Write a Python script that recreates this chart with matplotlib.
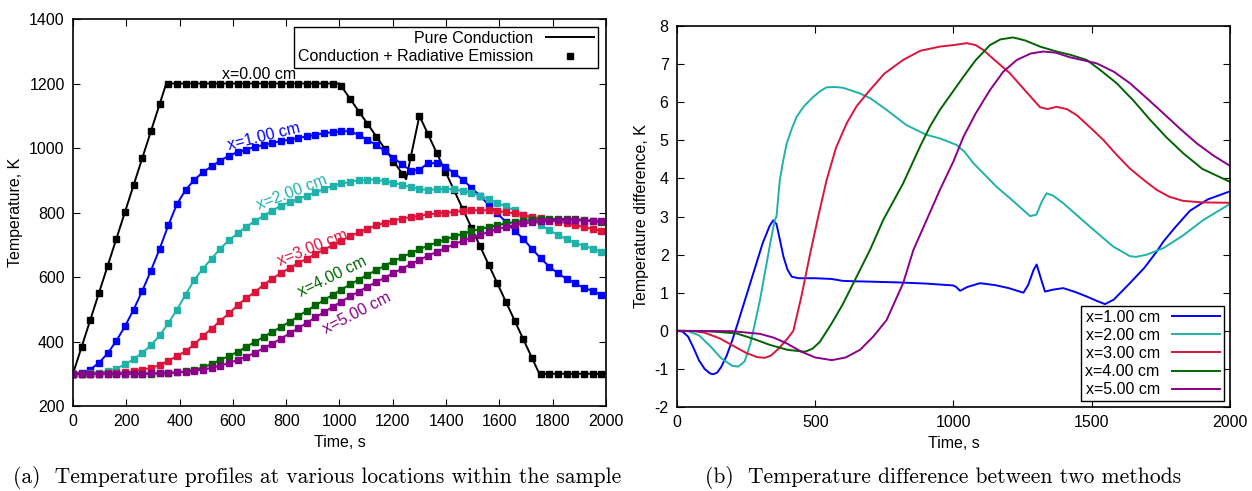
import numpy as np
import matplotlib

matplotlib.use('Agg')
import matplotlib.pyplot as plt
from matplotlib.lines import Line2D

plt.rcParams['font.family'] = ['Liberation Sans', 'DejaVu Sans']
plt.rcParams['axes.unicode_minus'] = False

# ---- left panel: temperature profiles ----
# marker times (one square every 32.5 s)
t_mark = np.arange(0, 2000, 32.5)

# pure conduction at x=0 (the imposed boundary history)
t_x0_line = [0, 350, 1000, 1250, 1300, 1750, 2000]
T_x0_line = [300, 1200, 1200, 903, 1100, 300, 300]

T_x0 = [300, 384, 467, 551, 634, 718, 801, 885, 969, 1052, 1136,
        1200, 1200, 1200, 1200, 1200, 1200, 1200, 1200, 1200, 1200,
        1200, 1200, 1200, 1200, 1200, 1200, 1200, 1200, 1200, 1200,
        1193, 1152, 1113, 1074, 1035, 996, 957, 918, 971, 1100,
        1042, 985, 927, 869, 811, 753, 695, 638, 580, 522,
        464, 407, 349, 300, 300, 300, 300, 300, 300, 300, 300]

T_x1 = [300, 302, 313, 334, 363, 402, 447, 499, 557, 620, 687,
        760, 826, 870, 901, 925, 943, 961, 976, 987, 995,
        1004, 1009, 1016, 1021, 1026, 1031, 1036, 1041, 1046, 1049,
        1052, 1052, 1040, 1025, 1010, 991, 970, 949, 930, 933,
        953, 953, 942, 922, 902, 877, 852, 823, 797, 770,
        744, 718, 687, 658, 632, 611, 594, 580, 566, 557, 544]

T_x2 = [300, 300, 301, 303, 308, 316, 329, 345, 365, 388, 419,
        456, 499, 545, 591, 626, 657, 688, 714, 735, 756,
        773, 790, 806, 821, 832, 842, 852, 863, 873, 883,
        890, 895, 900, 902, 902, 897, 892, 886, 879, 873,
        870, 872, 873, 872, 867, 861, 852, 841, 829, 819,
        807, 793, 778, 762, 745, 731, 717, 706, 696, 688, 678]

T_x3 = [300, 300, 300, 300, 301, 302, 304, 308, 313, 318, 327,
        340, 355, 370, 391, 417, 440, 464, 487, 512, 535,
        553, 576, 595, 612, 628, 643, 657, 671, 685, 699,
        713, 726, 739, 750, 760, 768, 775, 781, 786, 790,
        794, 797, 799, 802, 805, 807, 807, 807, 805, 801,
        797, 792, 787, 782, 777, 772, 767, 761, 755, 749, 743]

T_x4 = [300, 300, 300, 300, 300, 300, 300, 300, 300, 300, 301,
        302, 304, 307, 312, 320, 330, 343, 355, 368, 383,
        399, 414, 430, 445, 461, 478, 496, 512, 529, 545,
        561, 577, 592, 607, 621, 635, 649, 662, 674, 686,
        697, 707, 717, 726, 734, 742, 749, 755, 761, 766,
        770, 774, 777, 779, 780, 780, 780, 779, 777, 774, 771]

T_x5 = [300, 300, 300, 300, 300, 300, 300, 300, 300, 301, 302,
        303, 304, 306, 309, 313, 318, 325, 333, 343, 353,
        365, 379, 393, 409, 425, 441, 458, 475, 491, 508,
        524, 540, 555, 570, 584, 598, 612, 626, 640, 653,
        666, 678, 690, 701, 712, 722, 731, 740, 748, 755,
        761, 766, 770, 773, 775, 776, 776, 776, 775, 774, 773]

labels_left = ['x=0.00 cm', 'x=1.00 cm', 'x=2.00 cm', 'x=3.00 cm', 'x=4.00 cm', 'x=5.00 cm']
colors = ['black', '#0000ff', '#20b2aa', '#dc143c', '#006400', '#8b008b']

# ---- right panel: temperature difference ----
t_d1 = [0, 20, 40, 60, 80, 100, 120, 131, 145, 160, 180, 200, 220, 250, 280, 310, 335, 348, 360,
        372, 385, 400, 415, 440, 500, 560, 600, 640, 700, 800, 900, 999, 1010, 1024, 1050, 1096,
        1150, 1200, 1253, 1270, 1290, 1301, 1315, 1331, 1360, 1397, 1440, 1482, 1520, 1548, 1580,
        1638, 1690, 1735, 1760, 1800, 1855, 1920, 2000]
d1 = [0, -0.02, -0.15, -0.45, -0.78, -1.0, -1.12, -1.14, -1.1, -0.95, -0.65, -0.25, 0.2, 0.9, 1.6,
      2.3, 2.75, 2.9, 2.8, 2.4, 1.95, 1.6, 1.42, 1.38, 1.38, 1.36, 1.31, 1.3, 1.29, 1.27, 1.24, 1.19,
      1.15, 1.05, 1.15, 1.25, 1.2, 1.12, 1.0, 1.2, 1.6, 1.74, 1.4, 1.03, 1.08, 1.12, 1.02, 0.9, 0.78,
      0.7, 0.82, 1.25, 1.65, 2.08, 2.35, 2.7, 3.15, 3.45, 3.66]

t_d2 = [0, 40, 80, 120, 160, 200, 222, 245, 265, 276, 300, 320, 340, 354, 360, 372, 385, 397, 415,
        433, 460, 493, 520, 541, 570, 600, 662, 700, 758, 830, 900, 951, 1011, 1040, 1072, 1156,
        1220, 1277, 1300, 1320, 1337, 1360, 1397, 1494, 1578, 1638, 1660, 1700, 1759, 1830, 1904, 2000]
d2 = [0, -0.01, -0.12, -0.4, -0.72, -0.92, -0.94, -0.8, -0.35, 0.0, 0.8, 1.6, 2.4, 2.91, 3.0, 3.96,
      4.5, 4.92, 5.3, 5.62, 5.9, 6.14, 6.3, 6.39, 6.4, 6.38, 6.23, 6.1, 5.8, 5.4, 5.15, 5.05, 4.88,
      4.7, 4.4, 3.78, 3.38, 3.01, 3.05, 3.4, 3.61, 3.55, 3.35, 2.73, 2.21, 1.96, 1.94, 2.0, 2.17,
      2.5, 2.91, 3.33]

t_d3 = [0, 60, 100, 155, 200, 250, 290, 318, 340, 370, 400, 421, 450, 481, 511, 541, 575, 614, 650,
        698, 750, 818, 880, 951, 1000, 1048, 1080, 1108, 1150, 1204, 1260, 1313, 1340, 1373, 1410,
        1446, 1500, 1542, 1590, 1638, 1690, 1735, 1780, 1831, 1900, 2000]
d3 = [0, -0.01, -0.05, -0.2, -0.38, -0.58, -0.69, -0.71, -0.65, -0.45, -0.2, 0.0, 0.9, 2.0, 3.0,
      3.95, 4.8, 5.45, 5.9, 6.32, 6.75, 7.11, 7.35, 7.46, 7.5, 7.55, 7.5, 7.37, 7.1, 6.76, 6.3, 5.87,
      5.82, 5.88, 5.82, 5.66, 5.3, 5.01, 4.62, 4.26, 3.95, 3.7, 3.52, 3.41, 3.37, 3.36]

t_d4 = [0, 100, 150, 216, 280, 336, 400, 463, 490, 517, 560, 600, 638, 698, 746, 818, 880, 915,
        951, 1000, 1036, 1080, 1132, 1170, 1216, 1260, 1313, 1373, 1420, 1482, 1530, 1590, 1650,
        1711, 1770, 1831, 1900, 2000]
d4 = [0, -0.01, -0.03, -0.07, -0.22, -0.37, -0.5, -0.55, -0.47, -0.29, 0.2, 0.7, 1.25, 2.12, 2.91,
      3.87, 4.85, 5.36, 5.8, 6.3, 6.67, 7.1, 7.5, 7.65, 7.7, 7.62, 7.46, 7.33, 7.25, 7.11, 6.85, 6.5,
      6.05, 5.54, 5.08, 4.66, 4.25, 3.91]

t_d5 = [0, 200, 300, 350, 397, 450, 500, 560, 610, 662, 710, 758, 818, 855, 903, 951, 1000, 1036,
        1080, 1132, 1180, 1229, 1280, 1325, 1370, 1421, 1470, 1518, 1580, 1638, 1700, 1759, 1820,
        1880, 1940, 2000]
d5 = [0, -0.01, -0.08, -0.18, -0.33, -0.55, -0.7, -0.77, -0.7, -0.5, -0.15, 0.28, 1.25, 2.12, 2.91,
      3.7, 4.45, 5.09, 5.7, 6.32, 6.8, 7.11, 7.28, 7.33, 7.3, 7.18, 7.1, 7.02, 6.8, 6.5, 6.1, 5.71,
      5.3, 4.92, 4.6, 4.33]

labels_right = ['x=1.00 cm', 'x=2.00 cm', 'x=3.00 cm', 'x=4.00 cm', 'x=5.00 cm']

fs = 11.5

fig = plt.figure(figsize=(12.52, 4.91), dpi=100)
ax1 = fig.add_axes([0.0583, 0.1731, 0.4257, 0.7882])
ax2 = fig.add_axes([0.5407, 0.1711, 0.4417, 0.7759])

# left panel
ax1.plot(t_x0_line, T_x0_line, color='black', lw=1.4)
ax1.plot(t_mark, T_x0, 's', color='black', ms=5)
for T, c in zip([T_x1, T_x2, T_x3, T_x4, T_x5], colors[1:]):
    ax1.plot(t_mark, T, color=c, lw=1.4)
    ax1.plot(t_mark, T, 's', color=c, ms=5)

# inline curve labels
label_pos = [(698, 1228, 0), (715, 1035, 14), (822, 862, 21),
             (900, 690, 22), (975, 600, 26), (1065, 488, 27)]
for (x, y, rot), lab, c in zip(label_pos, labels_left, colors):
    ax1.text(x, y, lab, color=c, fontsize=fs, rotation=rot, rotation_mode='anchor',
             ha='center', va='center')

ax1.set_xlim(0, 2000)
ax1.set_ylim(200, 1400)
ax1.set_xticks(range(0, 2001, 200))
ax1.set_yticks(range(200, 1401, 200))
ax1.set_xlabel('Time, s', fontsize=fs)
ax1.set_ylabel('Temperature, K', fontsize=fs)

handles = [Line2D([], [], color='black', lw=1.4),
           Line2D([], [], color='black', marker='s', ls='none', ms=5)]
leg = ax1.legend(handles, ['Pure Conduction', 'Conduction + Radiative Emission'],
                 loc='upper right', markerfirst=False, fontsize=fs, fancybox=False,
                 edgecolor='black', framealpha=1, borderpad=0.25, labelspacing=0.2,
                 handlelength=3.0, borderaxespad=0.5)
leg.get_frame().set_linewidth(1.0)

# right panel
for t, d, c, lab in zip([t_d1, t_d2, t_d3, t_d4, t_d5], [d1, d2, d3, d4, d5],
                        colors[1:], labels_right):
    ax2.plot(t, d, color=c, lw=1.4, label=lab)

ax2.set_xlim(0, 2000)
ax2.set_ylim(-2, 8)
ax2.set_xticks(range(0, 2001, 500))
ax2.set_yticks(range(-2, 9))
ax2.set_xlabel('Time, s', fontsize=fs)
ax2.set_ylabel('Temperature difference, K', fontsize=fs)
leg2 = ax2.legend(loc='lower right', markerfirst=False, fontsize=fs, fancybox=False,
                  edgecolor='black', framealpha=1, borderpad=0.25, labelspacing=0.2,
                  handlelength=3.0, borderaxespad=0.35)
leg2.get_frame().set_linewidth(1.0)

for ax in (ax1, ax2):
    ax.tick_params(direction='in', top=True, right=True, length=5, labelsize=fs, pad=6)
    for s in ax.spines.values():
        s.set_linewidth(1.2)

fig.text(0.253, 0.016, '(a)  Temperature profiles at various locations within the sample',
         family='cmr10', fontsize=15.5, ha='center', va='baseline')
fig.text(0.753, 0.016, '(b)  Temperature difference between two methods',
         family='cmr10', fontsize=15.5, ha='center', va='baseline')

fig.savefig('out.png', dpi=100)
